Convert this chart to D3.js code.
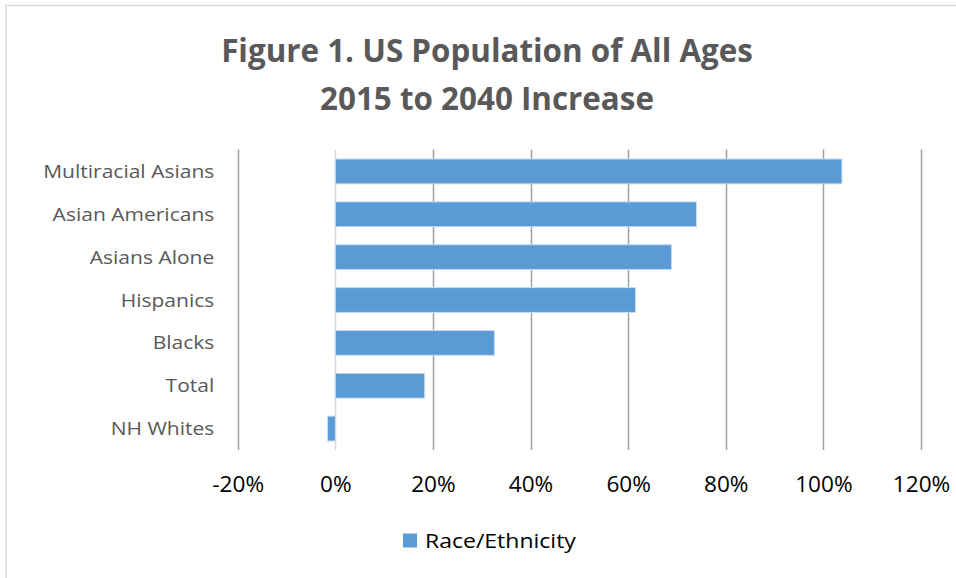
<!DOCTYPE html>
<html>
<head>
<meta charset="utf-8">
<script src="https://cdn.jsdelivr.net/npm/d3@7"></script>
<style>
  body { margin: 0; background: #fff; }
  text { font-family: "Open Sans", "Liberation Sans", sans-serif; }
</style>
</head>
<body>
<svg id="chart" width="956" height="578"></svg>
<script>
const categories = ["Multiracial Asians", "Asian Americans", "Asians Alone", "Hispanics", "Blacks", "Total", "NH Whites"];
const increase = [1.038, 0.740, 0.689, 0.615, 0.326, 0.183, -0.016];
const ticks = [-0.2, 0, 0.2, 0.4, 0.6, 0.8, 1.0, 1.2];
const titleLines = ["Figure 1. US Population of All Ages", "2015 to 2040 Increase"];
const seriesName = "Race/Ethnicity";

const svg = d3.select("#chart");
const width = +svg.attr("width");
const height = +svg.attr("height");

// stretch text horizontally a bit (the original font is Calibri, wider here)
function stretch(sel, k) {
  sel.each(function () {
    const len = this.getComputedTextLength();
    d3.select(this).attr("textLength", len * k).attr("lengthAdjust", "spacingAndGlyphs");
  });
}

// chart border (only top and left edges are visible in the crop)
svg.append("rect")
  .attr("x", 6).attr("y", 5.5)
  .attr("width", width + 10).attr("height", height + 10)
  .attr("fill", "none")
  .attr("stroke", "#d9d9d9")
  .attr("stroke-width", 1.5);

// title
svg.selectAll(".title")
  .data(titleLines)
  .enter()
  .append("text")
  .attr("class", "title")
  .attr("x", 487)
  .attr("y", (d, i) => 62 + i * 48)
  .attr("text-anchor", "middle")
  .attr("fill", "#595959")
  .style("font-size", "32.5px")
  .style("font-weight", "bold")
  .text(d => d)
  .call(stretch, 0.965);

const x = d3.scaleLinear()
  .domain([-0.2, 1.2])
  .range([237.7, 921]);

const y = d3.scaleBand()
  .domain(categories)
  .range([150, 450])
  .paddingInner(0.42)
  .paddingOuter(0.21);

// gridlines
svg.append("g")
  .selectAll("line")
  .data(ticks)
  .enter()
  .append("line")
  .attr("x1", d => Math.round(x(d)) + 0.5)
  .attr("x2", d => Math.round(x(d)) + 0.5)
  .attr("y1", 149.5)
  .attr("y2", 450)
  .attr("stroke", d => d === 0 ? "#d9d9d9" : "#a0a0a0")
  .attr("stroke-width", 1.5);

// x tick labels
const xAxis = svg.append("g")
  .attr("transform", "translate(0,450)")
  .call(d3.axisBottom(x).tickValues(ticks).tickFormat(d => Math.round(d * 100) + "%").tickSize(0).tickPadding(0));
xAxis.select(".domain").remove();
xAxis.selectAll("text")
  .attr("dy", null)
  .attr("y", 42.3)
  .attr("fill", "#000")
  .style("font-size", "21px")
  .style("font-family", "'Open Sans', sans-serif")
  .call(stretch, 1.075);

// bars
svg.append("g")
  .selectAll("rect")
  .data(categories)
  .enter()
  .append("rect")
  .attr("x", (d, i) => x(Math.min(0, increase[i])))
  .attr("y", d => y(d))
  .attr("width", (d, i) => Math.abs(x(increase[i]) - x(0)))
  .attr("height", y.bandwidth())
  .attr("fill", "#5b9bd5")
  .attr("stroke", "#c7dcf0")
  .attr("stroke-width", 1);

// category labels
const yAxis = svg.append("g")
  .attr("transform", "translate(237.7,0)")
  .call(d3.axisLeft(y).tickSize(0).tickPadding(23.4));
yAxis.select(".domain").remove();
yAxis.selectAll("text")
  .attr("dy", null)
  .attr("y", 6.5)
  .attr("fill", "#595959")
  .style("font-size", "18.6px")
  .style("font-family", "'Open Sans', sans-serif")
  .call(stretch, 1.13);

// legend
const legend = svg.append("g").attr("transform", "translate(403,533.5)");
legend.append("rect")
  .attr("width", 14).attr("height", 14)
  .attr("fill", "#5b9bd5");
legend.append("text")
  .attr("x", 22).attr("y", 14.2)
  .attr("fill", "#000")
  .style("font-size", "20px")
  .text(seriesName)
  .call(stretch, 1.15);
</script>
</body>
</html>
